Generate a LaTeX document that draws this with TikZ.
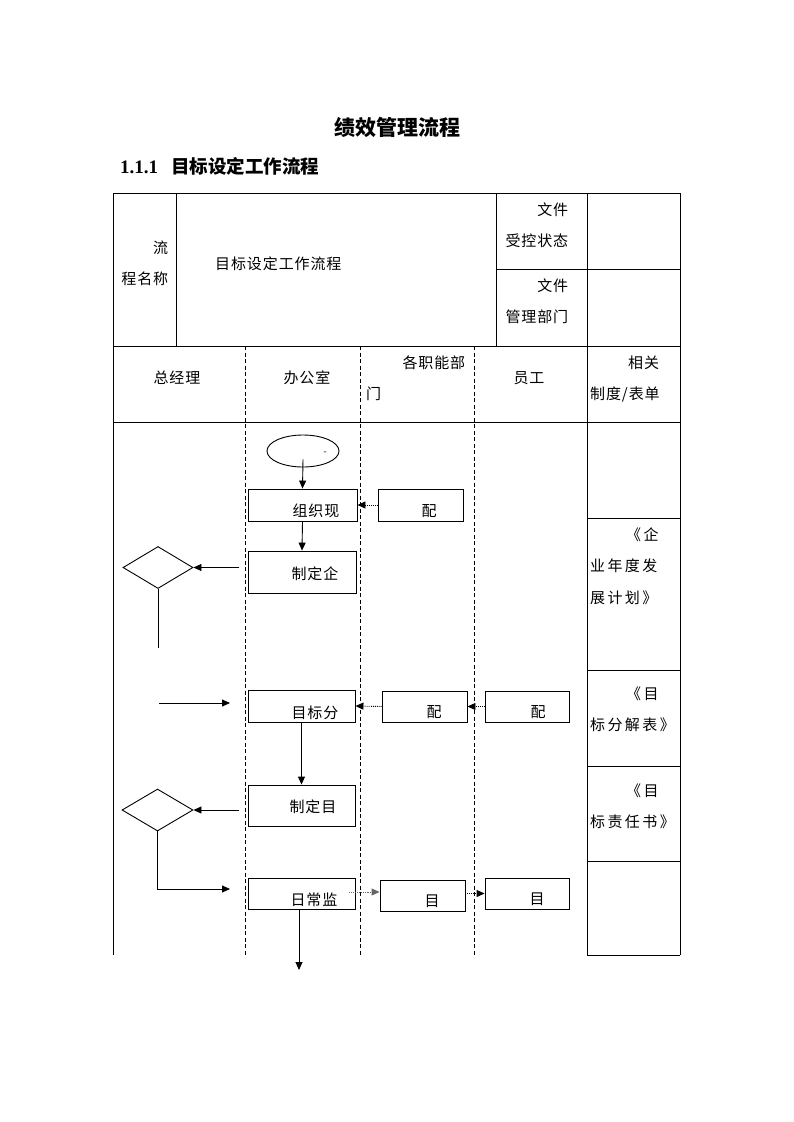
\documentclass[tikz,border=0pt]{standalone}
\usepackage{fontspec}
\setmainfont{Liberation Serif}
\newfontfamily\cjk{Noto Sans CJK SC}
\newfontfamily\cjks{Noto Sans CJK SC}[LetterSpace=6]
\newfontfamily\cjkw{Noto Sans CJK SC}[LetterSpace=16]
\usetikzlibrary{arrows.meta,shapes.geometric}
\begin{document}
\begin{tikzpicture}[x=1pt,y=-1pt,
  tline/.style={line width=0.9pt},
  lane/.style={line width=0.8pt, dash pattern=on 4pt off 2.5pt},
  txt/.style={font=\cjks\fontsize{15}{31}\selectfont, inner sep=0pt},
  rtxt/.style={font=\cjkw\fontsize{15}{31.5}\selectfont, inner sep=0pt, align=left, anchor=base west, text width=80pt},
  box/.style={draw, rectangle, line width=0.9pt, inner sep=0pt},
  arr/.style={line width=0.9pt, -{Triangle[length=8pt,width=7pt]}},
  darr/.style={arr, densely dotted},
  plain/.style={line width=0.9pt}
]
\useasboundingbox (0,0) rectangle (793,1122);

% titles
\node[font=\cjk\bfseries\fontsize{21}{21}\selectfont, inner sep=0pt, anchor=base] (title) at (397,135) {绩效管理流程};
\node[font=\bfseries\fontsize{19}{19}\selectfont, inner sep=0pt, anchor=base west] (sub) at (120,173) {1.1.1\hspace{13pt}{\cjk\fontsize{18.5}{18.5}\selectfont 目标设定工作流程}};

% table frame
\draw[tline] (113,193) -- (680,193);
\draw[tline] (113,193) -- (113,955);
\draw[tline] (680,193) -- (680,955);
\draw[tline] (176,193) -- (176,346);
\draw[tline] (496,193) -- (496,346);
\draw[tline] (587,193) -- (587,955);
\draw[tline] (496,269) -- (680,269);
\draw[tline] (113,346) -- (680,346);
\draw[tline] (113,422) -- (680,422);
\foreach \yy in {518,670,766,861,955} \draw[tline] (587,\yy) -- (680,\yy);
\foreach \xx in {245,360,474} \draw[lane] (\xx,346) -- (\xx,955);

% header texts
\node[txt, text width=50pt, align=right, anchor=base west] (h1) at (118,253) {流\\程名称};
\node[txt, anchor=base west] (h2) at (215,269) {目标设定工作流程};
\node[txt, text width=66pt, align=right, anchor=base west] (h3) at (502,215) {文件\\受控状态};
\node[txt, text width=66pt, align=right, anchor=base west] (h4) at (502,291) {文件\\管理部门};
\node[txt, anchor=base] (l1) at (177,383) {总经理};
\node[txt, anchor=base] (l2) at (307,383) {办公室};
\node[txt, text width=99pt, align=left, anchor=base west] (l3) at (366,368) {\hspace*{\fill}各职能部\\门};
\node[txt, anchor=base] (l4) at (529,383) {员工};
\node[txt, text width=80pt, align=left, anchor=base west] (l5) at (590,368) {\hspace*{38pt}相关\\制度/表单};

% right column
\node[rtxt] (r1) at (590,540) {\hspace*{36pt}《企\\业年度发\\展计划》};
\node[rtxt] (r2) at (590,699) {\hspace*{36pt}《目\\标分解表》};
\node[rtxt] (r3) at (590,796) {\hspace*{36pt}《目\\标责任书》};

% shapes
\node[draw, ellipse, line width=0.9pt, minimum width=72pt, minimum height=32pt, inner sep=0pt] (e) at (303,451) {};
\node[font=\fontsize{9}{9}\selectfont, inner sep=0pt] (emark) at (325,453) {-};

\node[box, minimum width=109pt, minimum height=32pt] (b1) at (302.5,505) {};
\node[box, minimum width=85pt, minimum height=32pt] (p1) at (420.5,505) {};
\node[box, minimum width=108pt, minimum height=42pt] (b2) at (302,572) {};
\node[box, minimum width=107pt, minimum height=32pt] (b3) at (301.5,706) {};
\node[box, minimum width=85pt, minimum height=31pt] (p2) at (424.5,706.5) {};
\node[box, minimum width=84pt, minimum height=31pt] (p3) at (527,706.5) {};
\node[box, minimum width=107pt, minimum height=41pt] (b4) at (301.5,805.5) {};
\node[box, minimum width=107pt, minimum height=31pt] (b5) at (301.5,893.5) {};
\node[box, minimum width=85pt, minimum height=31pt] (m1) at (422.5,895.5) {};
\node[box, minimum width=84pt, minimum height=31pt] (m2) at (527,893.5) {};

\node[draw, diamond, line width=0.9pt, minimum width=70pt, minimum height=42pt, inner sep=0pt] (d1) at (158,567.5) {};
\node[draw, diamond, line width=0.9pt, minimum width=71pt, minimum height=42pt, inner sep=0pt] (d2) at (157.5,810) {};

% box texts
\node[txt, anchor=base] (tb1) at (316,516) {组织现};
\node[txt, anchor=base] (tp1) at (429,516) {配};
\node[txt, anchor=base] (tb2) at (315,579) {制定企};
\node[txt, anchor=base] (tb3) at (315,718) {目标分};
\node[txt, anchor=base] (tp2) at (434,717) {配};
\node[txt, anchor=base] (tp3) at (538,717) {配};
\node[txt, anchor=base] (tb4) at (313,812) {制定目};
\node[txt, anchor=base] (tb5) at (314,905) {日常监};
\node[txt, anchor=base] (tm1) at (432,906) {目};
\node[txt, anchor=base] (tm2) at (537,904) {目};

% free ends
\coordinate (c1) at (239,567.5);
\coordinate (c2) at (158,648);
\coordinate (c3) at (159,703);
\coordinate (c4) at (230,703);
\coordinate (c5) at (239,810);
\coordinate (c6) at (230,889);
\coordinate (c8) at (299,970);

% connectors
\draw[arr] ([yshift=8pt]e.south) -- (b1.north);
\draw[darr] (p1.west) -- (b1.east);
\draw[arr] (b1.south) -- (b2.north);
\draw[arr] (c1) -- (d1.east);
\draw[plain] (d1.south) -- (c2);
\draw[arr] (c3) -- (c4);
\draw[darr] (p2.west) -- (b3.east);
\draw[darr] (p3.west) -- (p2.east);
\draw[arr] (b3.south) -- (b4.north);
\draw[arr] (c5) -- (d2.east);
\draw[arr] (d2.south) |- (c6);
\draw[arr, draw=black!60, densely dotted] ([xshift=-6pt,yshift=1.5pt]b5.east) -- ([yshift=1.5pt]b5.east -| m1.west);
\draw[darr] (m1.east |- m2.west) -- (m2.west);
\draw[arr] (b5.south -| c8) -- (c8);
\end{tikzpicture}
\end{document}
